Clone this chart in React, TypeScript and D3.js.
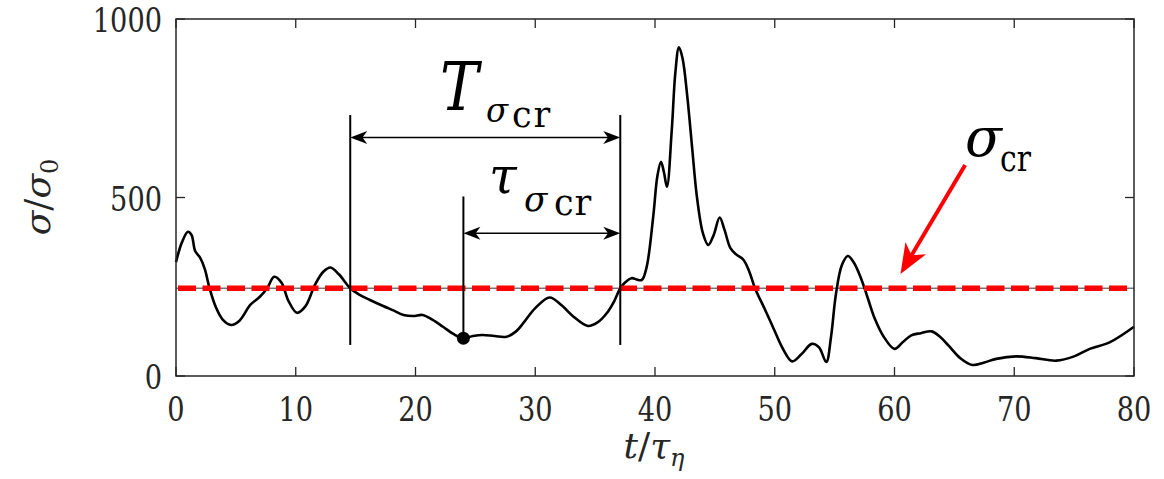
import React from 'react';
import * as d3 from 'd3';

// time in units of tau_eta
const tValues = [
  0, 0.5, 1.0, 1.3, 1.6, 2.0, 2.4, 2.8, 3.3, 3.9, 4.6, 5.3, 6.2, 7.0, 7.6, 8.2, 8.8, 9.4, 10.1, 10.8,
  11.6, 12.3, 12.9, 13.6, 14.55, 15.3, 16.2, 17.3, 18.2, 19.0, 19.8, 20.6, 21.4, 22.3, 23.2, 24.0, 24.8,
  25.6, 26.6, 27.6, 28.4, 29.0, 30.0, 31.2, 32.2, 33.2, 34.4, 35.2, 35.95, 36.6, 37.1, 37.5, 38.05, 38.5,
  38.9, 39.3, 39.85, 40.2, 40.5, 40.75, 41.0, 41.4, 41.7, 42.0, 42.3, 42.7, 43.1, 43.5, 44.0, 44.45, 44.9,
  45.4, 45.8, 46.3, 46.8, 47.4, 47.9, 48.35, 49.2, 49.9, 50.7, 51.45, 52.2, 53.1, 53.7, 54.3, 54.7, 55.1,
  55.6, 56.1, 56.6, 57.2, 57.8, 58.35, 59.1, 60.0, 60.7, 61.4, 62.2, 63.1, 63.8, 64.5, 65.5, 66.5, 67.5,
  68.5, 70.15, 71.8, 73.5, 75.0, 76.3, 78.0, 80.0,
];
// sigma / sigma_0
const sigmaValues = [
  319, 375, 404, 395, 350, 332, 300, 246, 195, 158, 143, 155, 199, 222, 245, 278, 262, 210, 177, 195,
  255, 292, 304, 285, 246, 228, 213, 196, 183, 171, 168, 171, 158, 138, 117, 106, 112,
  115, 112, 110, 125, 148, 190, 220, 198, 166, 140, 150, 175, 210, 246, 262, 274, 270,
  269, 305, 446, 560, 600, 570, 530, 689, 850, 921, 890, 782, 640, 502, 400, 367, 395,
  444, 410, 358, 340, 325, 290, 246, 185, 133, 75, 41, 60, 90, 80, 39, 110, 227,
  310, 336, 318, 274, 215, 161, 110, 76, 95, 114, 120, 125, 110, 86, 50, 31, 38,
  48, 55, 50, 43, 55, 76, 95, 138,
];

const xTicks = [0, 10, 20, 30, 40, 50, 60, 70, 80];
const yTicks = [0, 500, 1000];
const sigmaCr = 246;

// annotation anchors (data units)
const tCrossStart = 14.55;
const tCrossEnd = 37.1;
const tMinimum = 24.0;
const sigmaMinimum = 106;
const bracketBottom = 87;
const bracketTopT = 731;
const bracketTopTau = 503;
const arrowLevelT = 668;
const arrowLevelTau = 400;
const redArrowTail = [65.9, 591];
const redArrowTip = [60.5, 286];

const AXIS = '#262626';
const SERIF = 'DejaVu Serif';

function headPath(tx: number, ty: number, angle: number, L: number, Wd: number) {
  const c = Math.cos(angle), s = Math.sin(angle);
  const pt = (px: number, py: number) => [tx + px * c - py * s, ty + px * s + py * c];
  const a = pt(0, 0), b = pt(-L, Wd / 2), n = pt(-L * 0.72, 0), d = pt(-L, -Wd / 2);
  return `M${a[0]},${a[1]}L${b[0]},${b[1]}L${n[0]},${n[1]}L${d[0]},${d[1]}Z`;
}

// text drawn with a horizontal squeeze so DejaVu Serif approximates Times proportions
function Squeezed(props: {
  x: number; y: number; sx: number; anchor?: string; size: number; italic?: boolean; fill?: string; children: any;
}) {
  return (
    <text
      transform={`translate(${props.x},${props.y}) scale(${props.sx},1)`}
      textAnchor={props.anchor || 'start'}
      fontFamily={SERIF}
      fontSize={props.size}
      fontStyle={props.italic ? 'italic' : 'normal'}
      fill={props.fill || '#000'}
    >
      {props.children}
    </text>
  );
}

export default function App() {
  const W = 1164, H = 479;
  const x = d3.scaleLinear().domain([0, 80]).range([176, 1134]);
  const y = d3.scaleLinear().domain([0, 1000]).range([376, 19]);
  const [x0, x1] = x.range();
  const [y0, y1] = y.range();

  const line = d3
    .line<number>()
    .x((_, i) => x(tValues[i]))
    .y((d) => y(d))
    .curve(d3.curveCatmullRom.alpha(0.5));

  const tick = 9;

  const dbl = (ta: number, tb: number, lev: number) => {
    const xa = x(ta), xb = x(tb), yy = y(lev);
    return (
      <g>
        <line x1={xa + 4} x2={xb - 4} y1={yy} y2={yy} stroke="#000" strokeWidth={1.5} />
        <path d={headPath(xa, yy, Math.PI, 17, 13)} fill="#000" />
        <path d={headPath(xb, yy, 0, 17, 13)} fill="#000" />
      </g>
    );
  };

  const rtx = x(redArrowTail[0]), rty = y(redArrowTail[1]);
  const rhx = x(redArrowTip[0]), rhy = y(redArrowTip[1]);
  const rAng = Math.atan2(rhy - rty, rhx - rtx);
  const rBackX = rhx - Math.cos(rAng) * 20, rBackY = rhy - Math.sin(rAng) * 20;

  return (
    <svg width={W} height={H} style={{ position: 'absolute', left: 0, top: 0, background: '#fff' }}>
      <rect x={0} y={0} width={W} height={H} fill="#fff" />
      <line x1={x0} x2={x1} y1={y(sigmaCr)} y2={y(sigmaCr)} stroke="#333" strokeWidth={1} />
      <path d={line(sigmaValues) || ''} fill="none" stroke="#000" strokeWidth={2.6} strokeLinejoin="round" />
      <line x1={x0 + 2} x2={x1 - 2} y1={y(sigmaCr)} y2={y(sigmaCr)} stroke="#ff0000" strokeWidth={5.5} strokeDasharray="18 6.5" />
      <line x1={x(tCrossStart)} x2={x(tCrossStart)} y1={y(bracketBottom)} y2={y(bracketTopT)} stroke="#000" strokeWidth={2} />
      <line x1={x(tCrossEnd)} x2={x(tCrossEnd)} y1={y(bracketBottom)} y2={y(bracketTopT)} stroke="#000" strokeWidth={2} />
      <line x1={x(tMinimum)} x2={x(tMinimum)} y1={y(sigmaMinimum)} y2={y(bracketTopTau)} stroke="#000" strokeWidth={2} />
      <circle cx={x(tMinimum)} cy={y(sigmaMinimum)} r={6.5} fill="#000" />
      {dbl(tCrossStart, tCrossEnd, arrowLevelT)}
      {dbl(tMinimum, tCrossEnd, arrowLevelTau)}

      <line x1={rtx} y1={rty} x2={rBackX} y2={rBackY} stroke="#ff0000" strokeWidth={4} />
      <path d={headPath(rhx, rhy, rAng, 30, 24)} fill="#ff0000" />

      {/* T_{sigma_cr} */}
      <Squeezed x={440} y={110} sx={0.85} size={68} italic>T</Squeezed>
      <Squeezed x={486} y={122} sx={0.95} size={34} italic>σ</Squeezed>
      <text x={512} y={127} fontFamily={SERIF} fontSize={35} letterSpacing={2} fill="#000">cr</text>

      {/* tau_{sigma_cr} */}
      <Squeezed x={489} y={193} sx={1} size={50} italic>τ</Squeezed>
      <Squeezed x={524} y={211} sx={0.95} size={36} italic>σ</Squeezed>
      <text x={554} y={215} fontFamily={SERIF} fontSize={35} letterSpacing={1} fill="#000">cr</text>

      {/* sigma_cr */}
      <Squeezed x={965} y={156} sx={1} size={54} italic>σ</Squeezed>
      <Squeezed x={1000} y={171} sx={0.85} size={35}>cr</Squeezed>

      <rect x={x0} y={y1} width={x1 - x0} height={y0 - y1} fill="none" stroke={AXIS} strokeWidth={1.5} />
      {xTicks.map((t) => (
        <g key={'x' + t}>
          <line x1={x(t)} x2={x(t)} y1={y0} y2={y0 - tick} stroke={AXIS} strokeWidth={1.3} />
          <line x1={x(t)} x2={x(t)} y1={y1} y2={y1 + tick} stroke={AXIS} strokeWidth={1.3} />
          <Squeezed x={x(t)} y={421} sx={0.8} anchor="middle" size={34} fill={AXIS}>
            {t}
          </Squeezed>
        </g>
      ))}
      {yTicks.map((v) => (
        <g key={'y' + v}>
          <line x1={x0} x2={x0 + tick} y1={y(v)} y2={y(v)} stroke={AXIS} strokeWidth={1.3} />
          <line x1={x1} x2={x1 - tick} y1={y(v)} y2={y(v)} stroke={AXIS} strokeWidth={1.3} />
          <Squeezed x={162} y={y(v) + 13} sx={0.8} anchor="end" size={34} fill={AXIS}>
            {v}
          </Squeezed>
        </g>
      ))}

      <text x={654} y={458} textAnchor="middle" fontFamily={SERIF} fill={AXIS} fontSize={36}>
        <tspan fontStyle="italic">t</tspan>
        <tspan>/</tspan>
        <tspan fontStyle="italic">τ</tspan>
        <tspan fontSize={24} dy={8} fontStyle="italic">η</tspan>
      </text>
      <text transform={`translate(50,197) rotate(-90)`} textAnchor="middle" fontFamily={SERIF} fill={AXIS} fontSize={36}>
        <tspan fontStyle="italic">σ</tspan>
        <tspan>/</tspan>
        <tspan fontStyle="italic">σ</tspan>
        <tspan fontSize={24} dy={8}>0</tspan>
      </text>
    </svg>
  );
}
